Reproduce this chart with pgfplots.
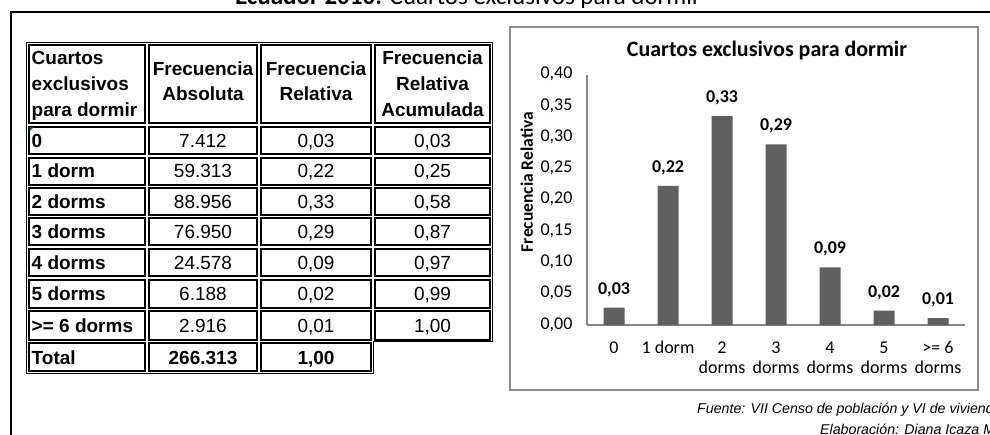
\documentclass[border=0pt]{standalone}
\usepackage{fontspec}
\setmainfont{Carlito}
\newfontfamily\arial{Liberation Sans}
\usepackage{pgfplots}
\pgfplotsset{compat=1.18}

\definecolor{bargray}{RGB}{96,96,96}
\definecolor{axgray}{RGB}{134,134,134}
\definecolor{boxgray}{RGB}{140,140,140}
\definecolor{excelgreen}{RGB}{0,128,0}

% relative frequencies (from the absolute counts, total 266.313)
\pgfplotstableread{
x  y
0  0.0278
1  0.2227
2  0.3340
3  0.2889
4  0.0923
5  0.0232
6  0.0109
}\cuartos

\newcommand\tabrow[5]{%
  \node[anchor=base west, font=\arial\bfseries\fontsize{19}{22}\selectfont] at (31.5,-#1) {#2};
  \node[anchor=base] at (203,-#1) {#3};
  \node[anchor=base] at (316,-#1) {#4};
  \node[anchor=base] at (432.5,-#1) {#5};
}

\begin{document}
\begin{tikzpicture}[x=1pt,y=1pt]
\useasboundingbox (0,-435) rectangle (990,0);
\clip (0,-435) rectangle (990,0);

% page heading, mostly cut off at the top
\node[anchor=base, inner sep=0] at (468,-5)
  {\fontsize{25}{30}\selectfont\textbf{Ecuador 2010:} Cuartos exclusivos para dormir};
\draw[line width=2pt] (10,-12) -- (990,-12);
\draw[line width=2pt] (10.5,-12) -- (10.5,-435);

% ---- table ----
\foreach \ya/\yb in {43/125,125/156,156/186.5,186.5/216.5,216.5/247,247/278,278/309.5,309.5/341.5}
  \foreach \xa/\xb in {27/147,147/259,259/373,373/492}
    \draw[line width=2.2pt] (\xa+1.7,-\ya-1.7) rectangle (\xb-1.7,-\yb+1.7);
\foreach \xa/\xb in {27/147,147/259,259/373}
  \draw[line width=2.2pt] (\xa+1.7,-341.5-1.7) rectangle (\xb-1.7,-373+1.7);
\draw[line width=0.8pt] (26.6,-42.6) -- (492.4,-42.6) -- (492.4,-341.9) -- (373.4,-341.9)
  -- (373.4,-373.4) -- (26.6,-373.4) -- cycle;
\fill[excelgreen] (29.5,-127.5) -- (33.5,-127.5) -- (29.5,-131.5) -- cycle;

\begin{scope}[every node/.style={inner sep=0, font=\arial\fontsize{19}{22}\selectfont}]
  \begin{scope}[every node/.append style={font=\arial\bfseries\fontsize{19}{22}\selectfont}]
    \node[anchor=base west] at (31.5,-64.8) {Cuartos};
    \node[anchor=base west] at (31.5,-90.8) {exclusivos};
    \node[anchor=base west] at (31.5,-116.8) {para dormir};
    \node[anchor=base] at (203,-75.8) {Frecuencia};
    \node[anchor=base] at (203,-100.8) {Absoluta};
    \node[anchor=base] at (316,-75.8) {Frecuencia};
    \node[anchor=base] at (316,-100.8) {Relativa};
    \node[anchor=base] at (432.5,-64.8) {Frecuencia};
    \node[anchor=base] at (432.5,-90.8) {Relativa};
    \node[anchor=base] at (432.5,-116.8) {Acumulada};
  \end{scope}
  \tabrow{147.3}{0}{7.412}{0,03}{0,03}
  \tabrow{178.0}{1 dorm}{59.313}{0,22}{0,25}
  \tabrow{208.3}{2 dorms}{88.956}{0,33}{0,58}
  \tabrow{238.6}{3 dorms}{76.950}{0,29}{0,87}
  \tabrow{269.3}{4 dorms}{24.578}{0,09}{0,97}
  \tabrow{300.6}{5 dorms}{6.188}{0,02}{0,99}
  \tabrow{332.3}{>= 6 dorms}{2.916}{0,01}{1,00}
  \begin{scope}[every node/.append style={font=\arial\bfseries\fontsize{19}{22}\selectfont}]
    \node[anchor=base west] at (31.5,-364) {Total};
    \node[anchor=base] at (203,-364) {266.313};
    \node[anchor=base] at (316,-364) {1,00};
  \end{scope}
\end{scope}

% ---- chart ----
\draw[boxgray, line width=2pt] (510,-27) rectangle (978,-390);
\node[anchor=base, inner sep=0, font=\bfseries\fontsize{22}{26}\selectfont] at (767,-57)
  {Cuartos exclusivos para dormir};

\begin{axis}[
  at={(587pt,-325pt)}, anchor=south west,
  scale only axis, width=378pt, height=250pt,
  xmin=-0.5, xmax=6.5, ymin=0, ymax=0.4,
  axis x line*=bottom, axis y line*=left,
  axis line style={axgray, line width=1.5pt},
  major tick length=0pt,
  ytick distance=0.05,
  xtick={0,...,6},
  xticklabels={0, 1 dorm, 2\\dorms, 3\\dorms, 4\\dorms, 5\\dorms, {>= 6\\dorms}},
  typeset ticklabels with strut,
  xticklabel style={align=center, font=\fontsize{18}{20}\selectfont, yshift=-11pt},
  yticklabel style={font=\fontsize{18}{20}\selectfont, xshift=-11pt},
  ylabel={Frecuencia Relativa},
  every axis y label/.style={at={(axis description cs:-0.159,0.572)}, rotate=90,
    anchor=center, font=\bfseries\fontsize{17.5}{20}\selectfont},
  ybar, bar width=21pt,
  nodes near coords,
  every node near coord/.append style={font=\bfseries\fontsize{18}{20}\selectfont, yshift=7.5pt},
  /pgf/number format/use comma,
  /pgf/number format/fixed,
  /pgf/number format/fixed zerofill,
  /pgf/number format/precision=2,
  /pgf/number format/assume math mode=true,
]
\addplot[fill=bargray, draw=none] table[x=x, y=y] {\cuartos};
\end{axis}

% source notes, cut at the right edge
\begin{scope}[every node/.style={inner sep=0, anchor=base west, font=\arial\itshape\fontsize{14.2}{16}\selectfont}]
  \node at (697,-413) {Fuente: VII Censo de población y VI de vivienda};
  \node at (820,-434) {Elaboración: Diana Icaza M.};
\end{scope}
\end{tikzpicture}
\end{document}
